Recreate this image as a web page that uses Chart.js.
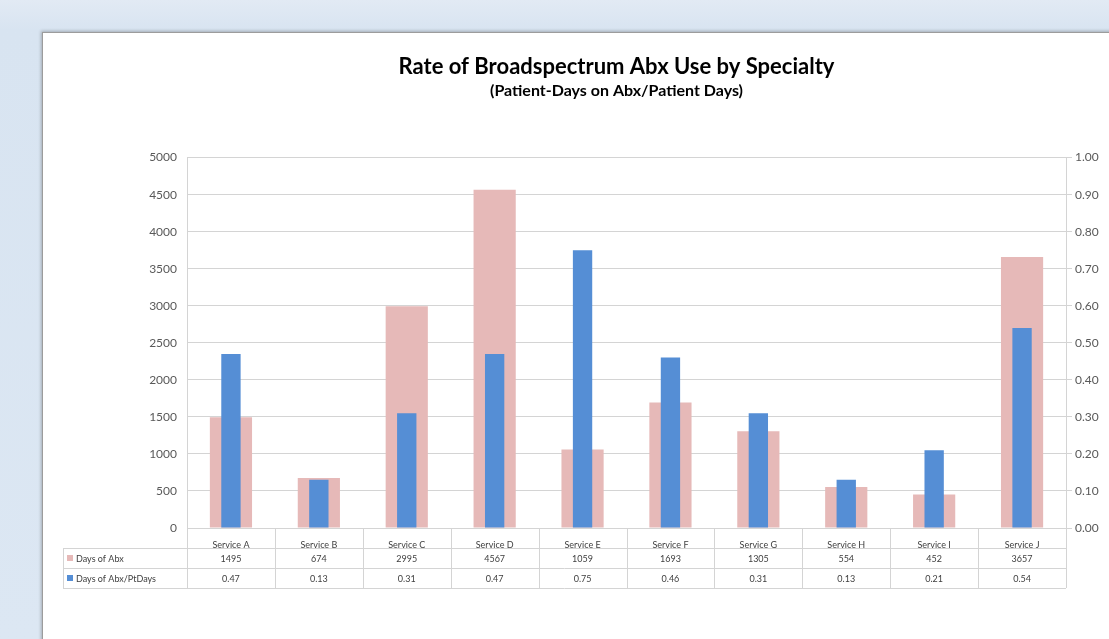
<!DOCTYPE html>
<html>
<head>
<meta charset="utf-8">
<script src="https://cdn.jsdelivr.net/npm/chart.js@4.4.0/dist/chart.umd.min.js"></script>
<style>
  html, body { margin: 0; padding: 0; }
  body {
    width: 1109px; height: 639px; overflow: hidden; position: relative;
    background: linear-gradient(#e2eaf4 0px, #d8e4f1 30px, #dce7f3 100%);
  }
  #panel {
    position: absolute; left: 42px; top: 32px; width: 1100px; height: 640px;
    background: #fff; border: 1px solid #9c9c9c;
    box-shadow: -1px -1px 3px rgba(0,0,0,0.25);
  }
  #wrap { position: absolute; left: 0; top: 0; width: 1109px; height: 639px; }
</style>
</head>
<body>
<div id="panel"></div>
<div id="wrap"><canvas id="grafico"></canvas></div>
<script>
// dados
const servicos = ['Service A', 'Service B', 'Service C', 'Service D', 'Service E',
                  'Service F', 'Service G', 'Service H', 'Service I', 'Service J'];
const diasAbx = [1495, 674, 2995, 4567, 1059, 1693, 1305, 554, 452, 3657];
const taxaAbx = [0.47, 0.13, 0.31, 0.47, 0.75, 0.46, 0.31, 0.13, 0.21, 0.54];
const corRosa = '#e6b9b8';
const corAzul = '#558ed5';
const fonte = 'Lato, "Open Sans", sans-serif';
const corLinha = '#d4d4d4';

// tabela de dados embaixo do grafico
const tabelaPlugin = {
  id: 'tabela',
  afterDraw(chart) {
    const c = chart.ctx;
    const x = chart.scales.x;
    const area = chart.chartArea;
    const y0 = area.bottom, y1 = y0 + 20, y2 = y1 + 20, y3 = y2 + 20;
    const esq = 63;
    const passo = (area.right - area.left) / servicos.length;
    c.save();
    c.strokeStyle = corLinha;
    c.lineWidth = 1;
    c.beginPath();
    // horizontais
    c.moveTo(esq, y1 + 0.5); c.lineTo(area.right, y1 + 0.5);
    c.moveTo(esq, y2 + 0.5); c.lineTo(area.right, y2 + 0.5);
    c.moveTo(esq, y3 + 0.5); c.lineTo(area.right, y3 + 0.5);
    // verticais
    c.moveTo(esq + 0.5, y1); c.lineTo(esq + 0.5, y3);
    for (let i = 0; i <= servicos.length; i++) {
      const px = Math.round(area.left + i * passo) + 0.5;
      c.moveTo(px, y0); c.lineTo(px, y3);
    }
    c.stroke();

    c.font = '9px ' + fonte;
    c.textBaseline = 'middle';
    // legenda
    c.fillStyle = corRosa;
    c.fillRect(67, (y1 + y2) / 2 - 3, 6, 6);
    c.fillStyle = corAzul;
    c.fillRect(67, (y2 + y3) / 2 - 3, 6, 6);
    c.fillStyle = '#404040';
    c.textAlign = 'left';
    c.fillText('Days of Abx', 76, (y1 + y2) / 2 + 1);
    c.fillText('Days of Abx/PtDays', 76, (y2 + y3) / 2 + 1);
    // valores
    c.textAlign = 'center';
    for (let i = 0; i < servicos.length; i++) {
      const px = x.getPixelForValue(i);
      c.fillText(String(diasAbx[i]), px, (y1 + y2) / 2 + 1);
      c.fillText(taxaAbx[i].toFixed(2), px, (y2 + y3) / 2 + 1);
    }
    c.restore();
  }
};

const ctx = document.getElementById('grafico').getContext('2d');
ctx.canvas.width = 1109;
ctx.canvas.height = 639;

new Chart(ctx, {
  type: 'bar',
  data: {
    labels: servicos,
    datasets: [{
      label: 'Days of Abx',
      data: diasAbx,
      backgroundColor: corRosa,
      yAxisID: 'y',
      grouped: false,
      barPercentage: 0.48,
      categoryPercentage: 1,
      order: 2
    }, {
      label: 'Days of Abx/PtDays',
      data: taxaAbx,
      backgroundColor: corAzul,
      yAxisID: 'y1',
      grouped: false,
      barPercentage: 0.22,
      categoryPercentage: 1,
      order: 1
    }]
  },
  options: {
    responsive: false,
    animation: false,
    layout: { padding: { left: 127, right: 3, top: 54, bottom: 91 } },
    plugins: {
      legend: { display: false },
      tooltip: { enabled: false },
      title: {
        display: true,
        text: 'Rate of Broadspectrum Abx Use by Specialty',
        color: '#000',
        font: { family: fonte, size: 22, weight: 'bold' },
        padding: { top: 0, bottom: 1 }
      },
      subtitle: {
        display: true,
        text: '(Patient-Days on Abx/Patient Days)',
        color: '#000',
        font: { family: fonte, size: 16, weight: 'bold' },
        padding: { top: 0, bottom: 57 }
      }
    },
    scales: {
      x: {
        grid: { display: false },
        border: { display: false },
        ticks: {
          autoSkip: false, maxRotation: 0, padding: 4,
          color: '#404040', font: { family: fonte, size: 9 }
        },
        afterFit(s) { s.height = 20; }
      },
      y: {
        position: 'left',
        min: 0, max: 5000,
        grid: { color: corLinha, drawTicks: false },
        border: { display: true, color: corLinha },
        ticks: {
          stepSize: 500, padding: 10,
          color: '#595959', font: { family: fonte, size: 12 },
          callback: v => String(v)
        },
        afterFit(s) { s.width = 60; }
      },
      y1: {
        position: 'right',
        min: 0, max: 1,
        grid: { drawOnChartArea: false, color: corLinha, tickLength: 6 },
        border: { display: true, color: corLinha },
        ticks: {
          stepSize: 0.1, padding: 3,
          color: '#595959', font: { family: fonte, size: 12 },
          callback: v => v.toFixed(2)
        },
        afterFit(s) { s.width = 40; }
      }
    }
  },
  plugins: [tabelaPlugin]
});
</script>
</body>
</html>
